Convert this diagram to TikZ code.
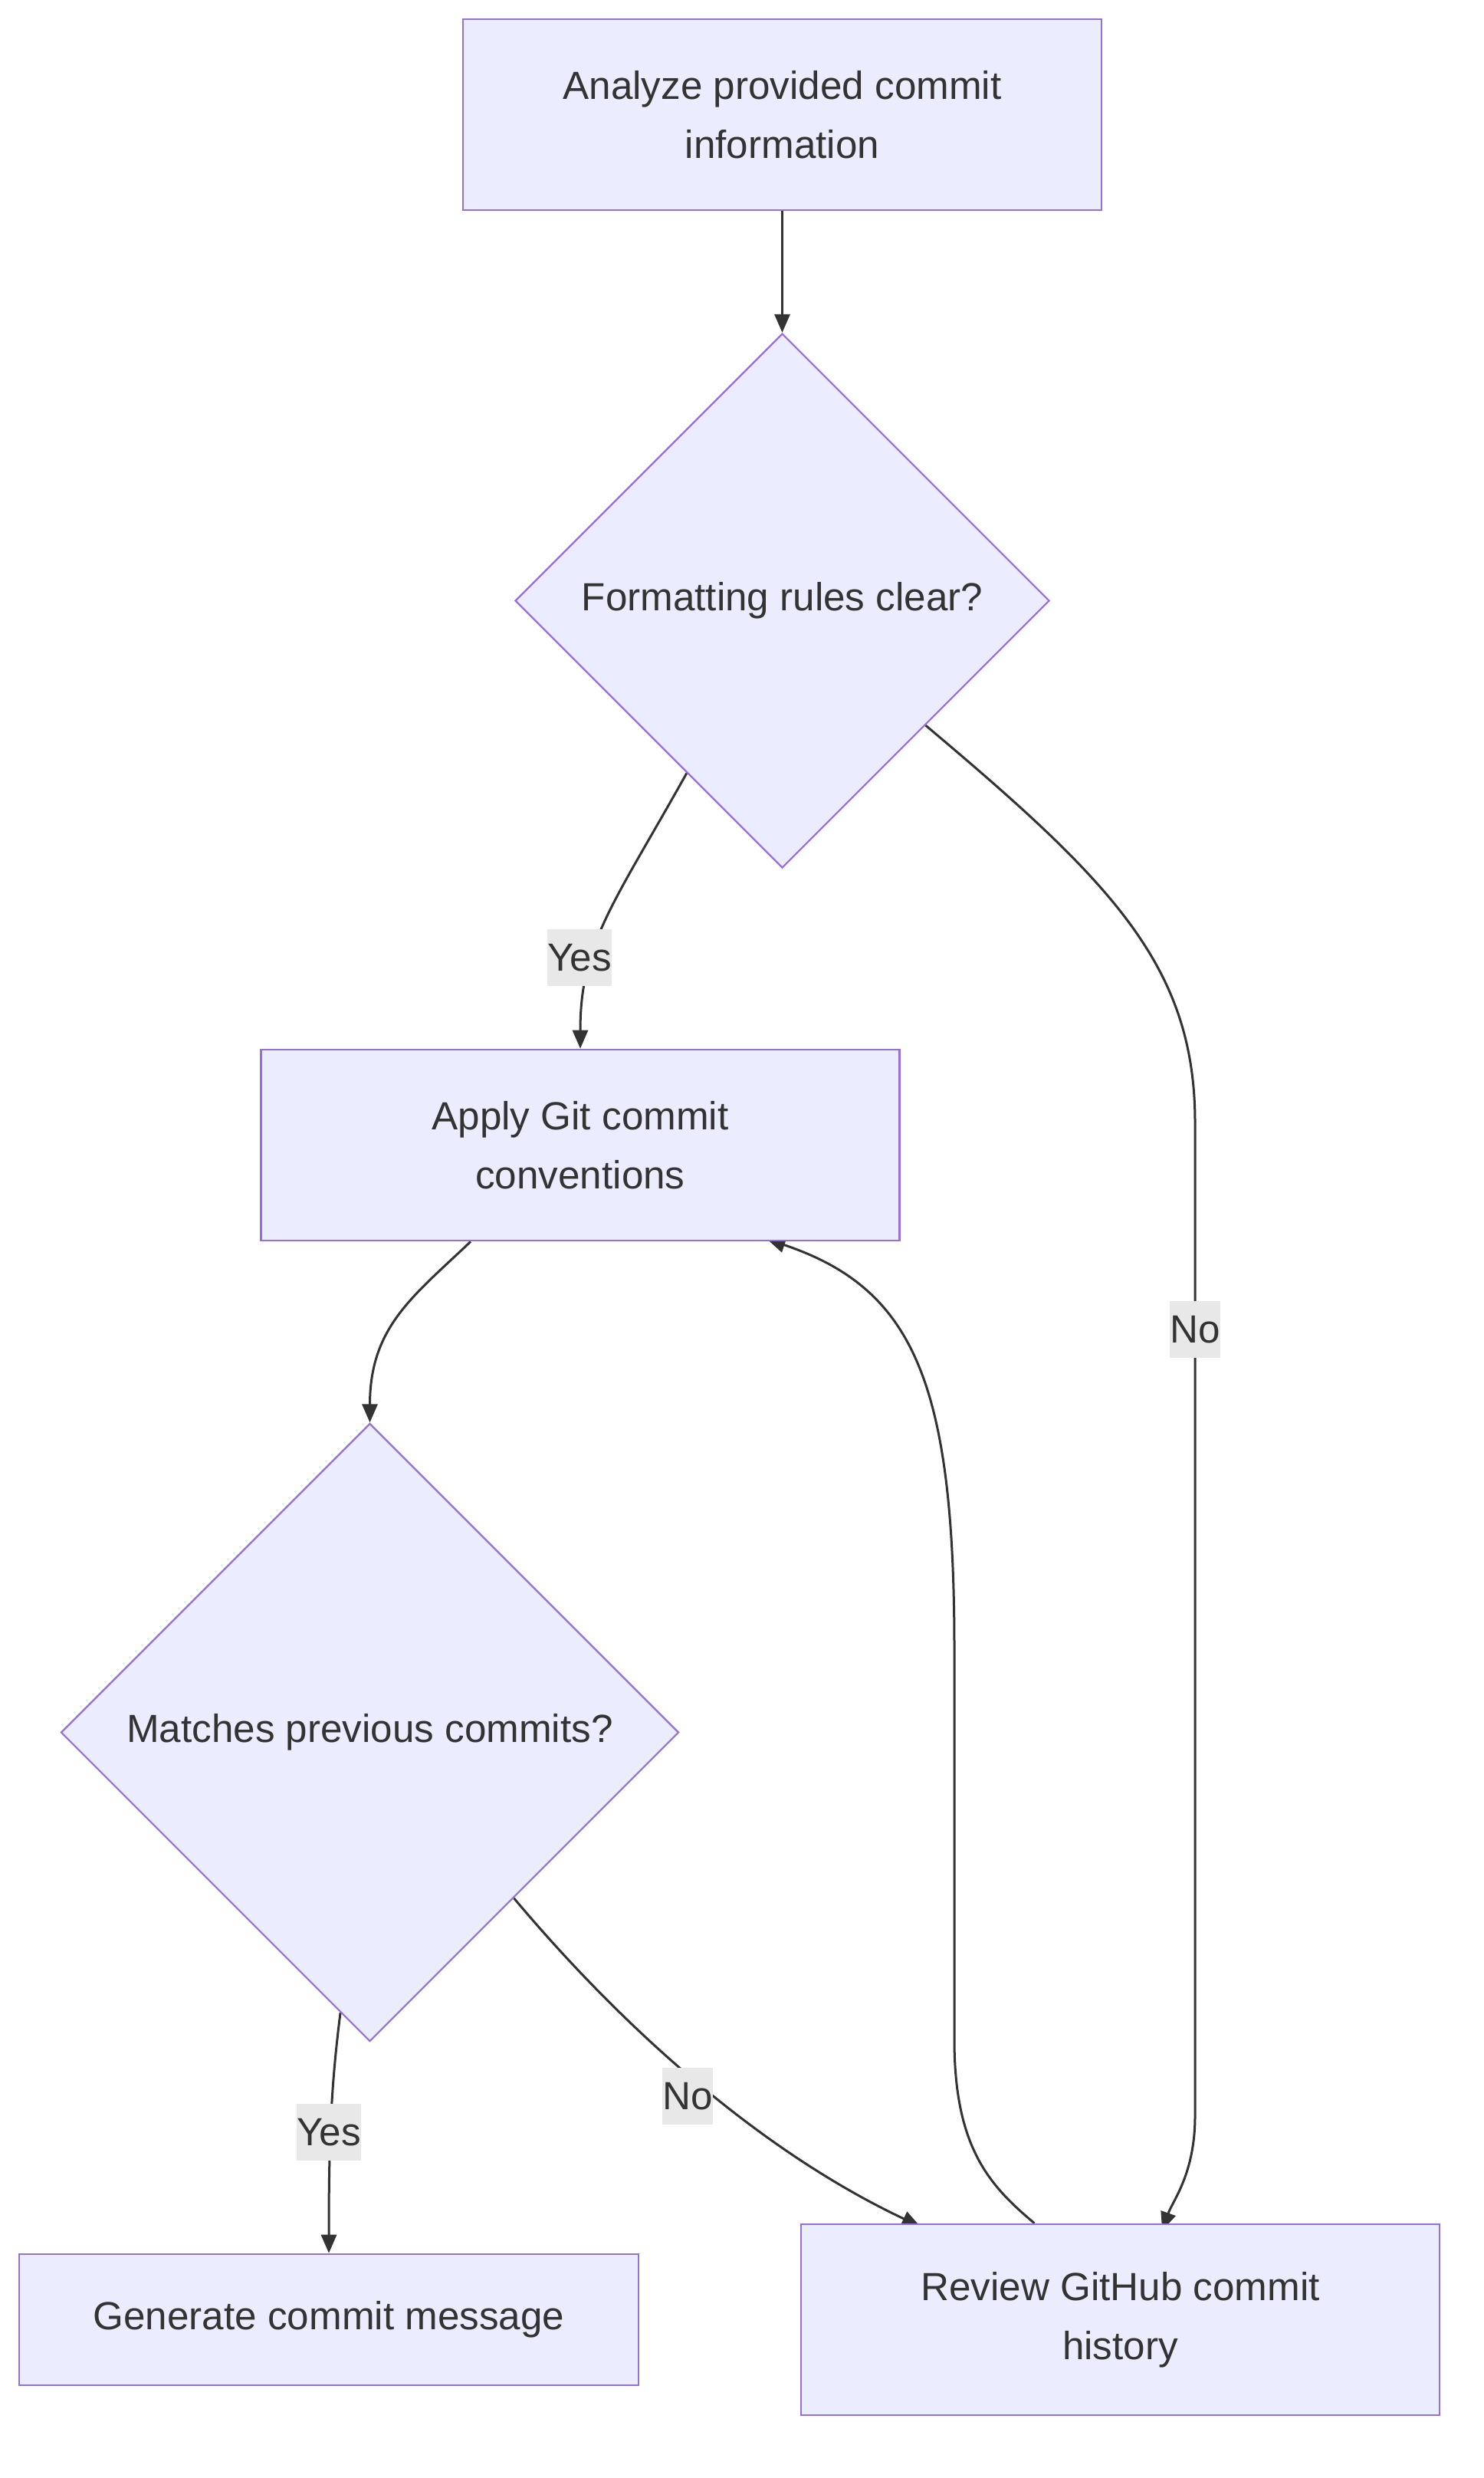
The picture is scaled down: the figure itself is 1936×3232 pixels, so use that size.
\documentclass[tikz,border=0pt]{standalone}
\usepackage{fontspec}
\setmainfont{Liberation Sans}
\usetikzlibrary{shapes.geometric,arrows.meta,calc,backgrounds}
\definecolor{nodefill}{HTML}{ECECFF}
\definecolor{nodeline}{HTML}{9370DB}
\definecolor{ink}{HTML}{333333}
\definecolor{lblfill}{HTML}{E8E8E8}

\begin{document}
\begin{tikzpicture}[
        x=0.5pt, y=-0.5pt,
        every node/.style={font=\fontsize{25.6}{38.4}\selectfont, text=ink},
        proc/.style={rectangle, draw=nodeline, fill=nodefill, line width=1.3pt, minimum width=416.5pt, minimum height=124.5pt, align=center},
        decision/.style={diamond, draw=nodeline, fill=nodefill, line width=1.1pt, aspect=1, inner sep=0pt},
        lbl/.style={fill=lblfill, inner xsep=0pt, inner ysep=0pt, minimum height=37pt},
        flow/.style={draw=ink, line width=1.5pt, -{Triangle[length=12pt,width=10pt]}},
        sunk/.style={shorten >=-5pt}
    ]
    \useasboundingbox (0,0) rectangle (1936,3232);
    \node[proc] (analyze) at (1020.5,149.5) {Analyze provided commit\\information};
    \node[decision, minimum size=348.5pt] (rules) at (1020.5,783.5) {Formatting rules clear?};
    \node[proc] (apply) at (757,1493.5) {Apply Git commit\\conventions};
    \node[decision, minimum size=403pt] (matches) at (482.5,2259.5) {Matches previous commits?};
    \node[proc, minimum width=404pt, minimum height=85.5pt] (generate) at (429,3025.5) {Generate commit message};
    \node[proc] (review) at (1461.5,3025.5) {Review GitHub commit\\history};

    \begin{pgfonlayer}{background}
    \draw[flow] (analyze.south) -- (rules.north);
    \draw[flow] (rules.241) .. controls (800,1180) and (757,1230) .. (apply.north);
    \draw[flow, sunk] (rules.319) .. controls (1450,1150) and (1559,1260) .. (1559,1464)
        -- (1559,2760) .. controls (1559,2835) and (1530,2870) .. ($(review.north)+(58,0)$);
    \draw[flow] ($(apply.south)+(-143,0)$) .. controls (540,1690) and (482.5,1730) .. (matches.north);
    \draw[flow] (matches.264) .. controls (432,2720) and (429,2790) .. (generate.north);
    \draw[flow, sunk] (matches.311) .. controls (800,2630) and (980,2800) .. ($(review.north)+(-270,0)$);
    \draw[flow, sunk] ($(review.north)+(-112,0)$) .. controls (1290,2850) and (1245,2800) .. (1245,2660)
        -- (1245,2150) .. controls (1245,1800) and (1190,1680) .. ($(apply.south)+(253,0)$);
    \end{pgfonlayer}

    \node[lbl] (yes1) at (756,1249) {Yes};
    \node[lbl] (no1) at (1559,1734) {No};
    \node[lbl] (yes2) at (429,2781) {Yes};
    \node[lbl] (no2) at (897,2734) {No};
\end{tikzpicture}
\end{document}
